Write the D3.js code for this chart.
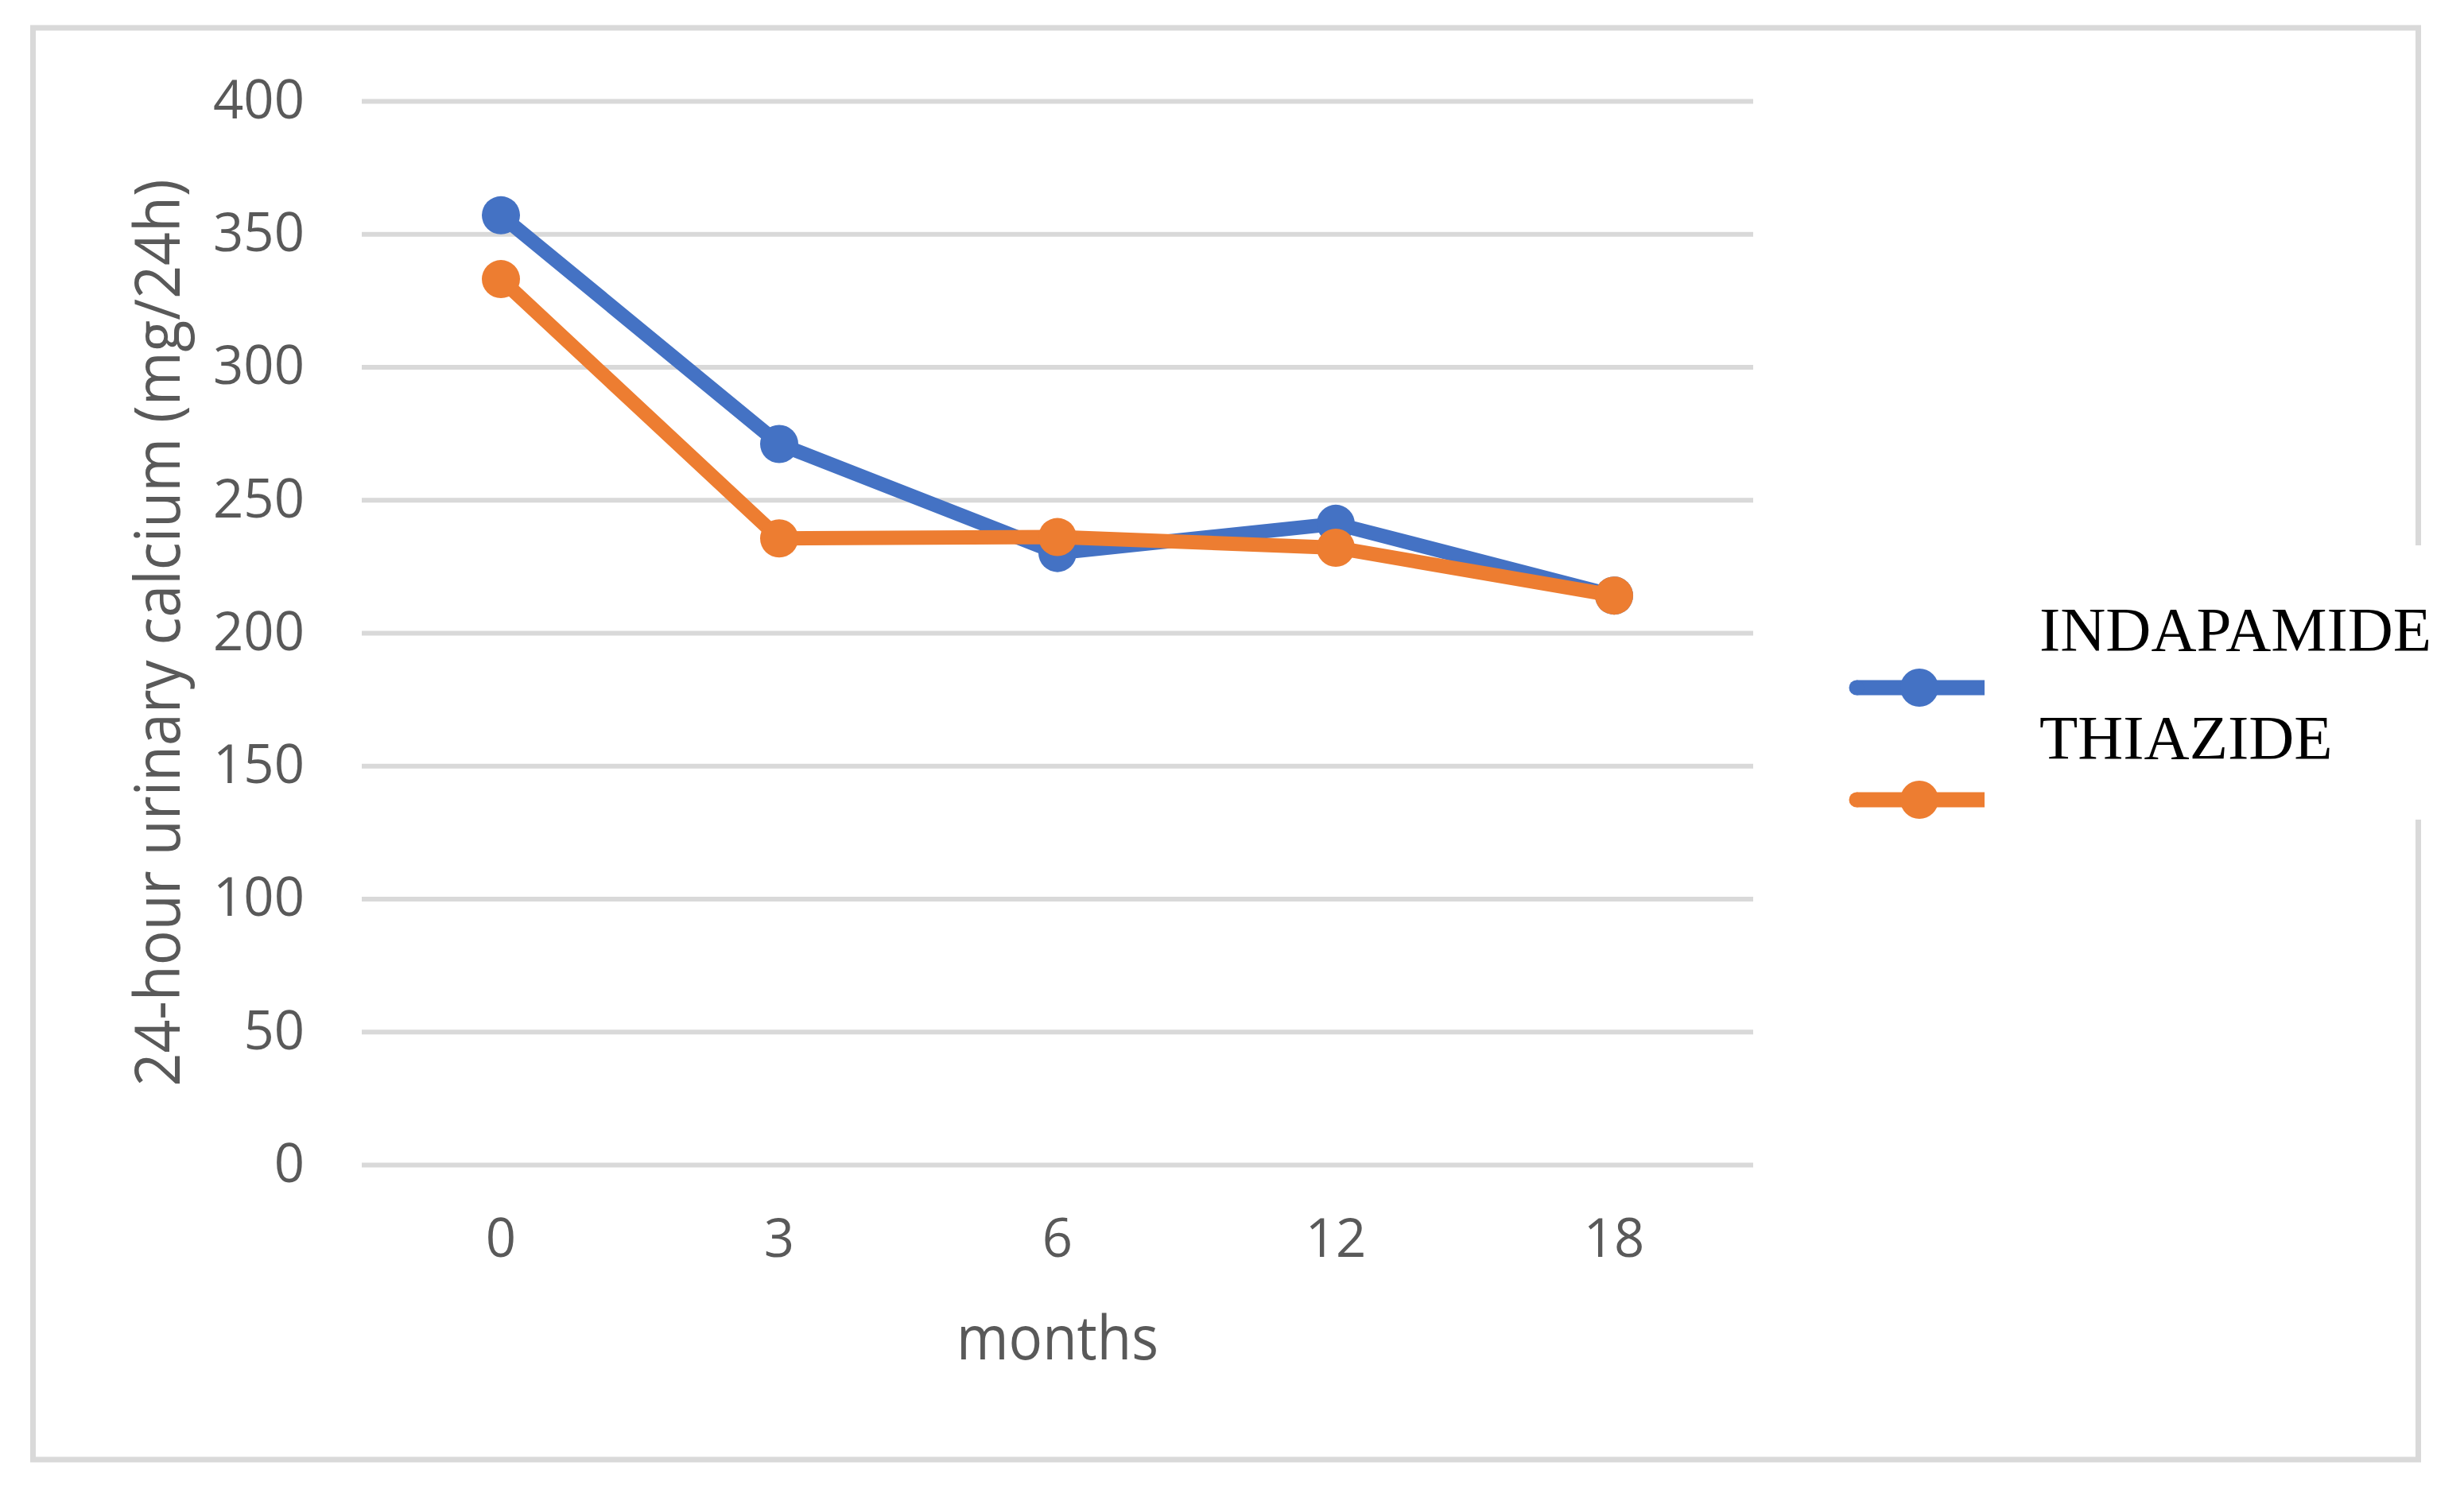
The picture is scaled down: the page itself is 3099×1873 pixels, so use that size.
<!DOCTYPE html>
<html>
<head>
<meta charset="utf-8">
<script src="https://cdn.jsdelivr.net/npm/d3@7"></script>
<style>
  body { margin: 0; background: #fff; }
  svg { display: block; }
</style>
</head>
<body>
<div id="chart"></div>
<script>
// values
var months = ["0", "3", "6", "12", "18"];
var indapamide = [357, 271, 230, 241, 214];
var thiazide = [333, 235.5, 236, 232, 214];
var yTicks = [0, 50, 100, 150, 200, 250, 300, 350, 400];
var seriesNames = ["INDAPAMIDE", "THIAZIDE"];
var seriesColors = ["#4472C4", "#ED7D31"];

var W = 3099, H = 1873;
var svg = d3.select("#chart").append("svg")
    .attr("width", W)
    .attr("height", H);

// plot area ("top" is taken by window.top, so prefix them)
var plotLeft = 455, plotRight = 2205, plotTop = 127, plotBottom = 1465;

var x = d3.scaleBand().domain(months).range([plotLeft, plotRight]);
var y = d3.scaleLinear().domain([0, 400]).range([plotBottom, plotTop]);

// outer frame
svg.append("rect")
    .attr("x", 41.5).attr("y", 35)
    .attr("width", 3000).attr("height", 1801)
    .attr("fill", "none")
    .attr("stroke", "#d9d9d9")
    .attr("stroke-width", 7);

// gridlines + y labels
var yAxis = svg.append("g")
    .attr("transform", "translate(" + plotLeft + ",0)")
    .call(d3.axisLeft(y).tickValues(yTicks).tickSize(-(plotRight - plotLeft)).tickPadding(72));
yAxis.select(".domain").remove();
yAxis.selectAll(".tick line").attr("stroke", "#d9d9d9").attr("stroke-width", 6);
yAxis.selectAll(".tick text")
    .attr("fill", "#595959")
    .style("font-family", "'Open Sans', sans-serif")
    .style("font-size", "67px");

// x labels
var xAxis = svg.append("g")
    .attr("transform", "translate(0," + plotBottom + ")")
    .call(d3.axisBottom(x).tickSize(0).tickPadding(68));
xAxis.select(".domain").remove();
xAxis.selectAll(".tick text")
    .attr("fill", "#595959")
    .style("font-family", "'Open Sans', sans-serif")
    .style("font-size", "67px");

// axis titles
svg.append("text")
    .attr("x", (plotLeft + plotRight) / 2)
    .attr("y", 1710)
    .attr("text-anchor", "middle")
    .attr("fill", "#595959")
    .attr("textLength", 254)
    .attr("lengthAdjust", "spacingAndGlyphs")
    .style("font-family", "'Open Sans', sans-serif")
    .style("font-size", "76px")
    .text("months");

svg.append("text")
    .attr("transform", "translate(226," + ((plotTop + plotBottom) / 2) + ") rotate(-90)")
    .attr("text-anchor", "middle")
    .attr("fill", "#595959")
    .attr("textLength", 1141)
    .attr("lengthAdjust", "spacingAndGlyphs")
    .style("font-family", "'Open Sans', sans-serif")
    .style("font-size", "78px")
    .text("24-hour urinary calcium (mg/24h)");

// series
var line = d3.line()
    .x(function(d, i) { return x(months[i]) + x.bandwidth() / 2; })
    .y(function(d) { return y(d); });

[indapamide, thiazide].forEach(function(vals, s) {
    svg.append("path")
        .datum(vals)
        .attr("d", line)
        .attr("fill", "none")
        .attr("stroke", seriesColors[s])
        .attr("stroke-width", 18)
        .attr("stroke-linejoin", "round");
    svg.append("g").selectAll("circle")
        .data(vals)
        .enter().append("circle")
        .attr("cx", function(d, i) { return x(months[i]) + x.bandwidth() / 2; })
        .attr("cy", function(d) { return y(d); })
        .attr("r", 24)
        .attr("fill", seriesColors[s]);
});

// legend box (sits over the frame)
svg.append("rect")
    .attr("x", 2300).attr("y", 686)
    .attr("width", 799).attr("height", 345)
    .attr("fill", "#fff");

var legendLineY = [865, 1006];
var legendTextY = [818, 954];
seriesNames.forEach(function(name, s) {
    svg.append("line")
        .attr("x1", 2335).attr("x2", 2496)
        .attr("y1", legendLineY[s]).attr("y2", legendLineY[s])
        .attr("stroke", seriesColors[s])
        .attr("stroke-width", 19);
    svg.append("circle")
        .attr("cx", 2335).attr("cy", legendLineY[s])
        .attr("r", 9.5)
        .attr("fill", seriesColors[s]);
    svg.append("circle")
        .attr("cx", 2414).attr("cy", legendLineY[s])
        .attr("r", 24)
        .attr("fill", seriesColors[s]);
    svg.append("text")
        .attr("x", 2565).attr("y", legendTextY[s])
        .attr("fill", "#000")
        .style("font-family", "'Liberation Serif', serif")
        .style("font-size", "79px")
        .text(name);
});
</script>
</body>
</html>
